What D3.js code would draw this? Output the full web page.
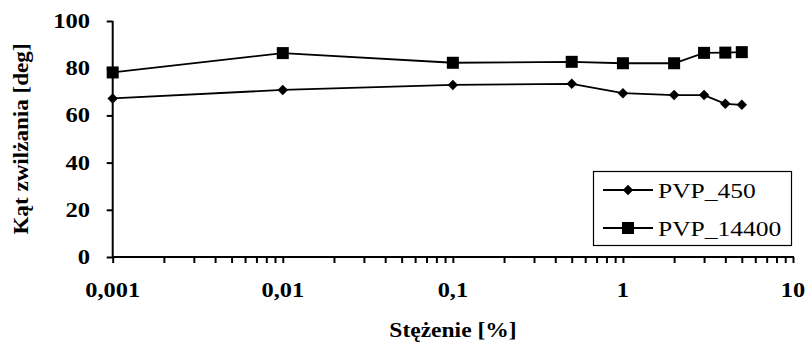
<!DOCTYPE html>
<html><head><meta charset="utf-8">
<script src="https://cdn.jsdelivr.net/npm/d3@7"></script>
<style>body{margin:0;background:#fff}svg{display:block}</style>
</head><body>
<svg id="c" width="809" height="342"></svg>
<script>
const concentrations = [0.001, 0.01, 0.1, 0.5, 1, 2, 3, 4, 5];
const pvp450 = [67.2, 70.8, 72.9, 73.4, 69.4, 68.6, 68.6, 64.9, 64.5];
const pvp14400 = [78.2, 86.4, 82.3, 82.7, 82.1, 82.1, 86.5, 86.6, 86.8];
const seriesNames = ["PVP_450", "PVP_14400"];
const xTickValues = [0.001, 0.01, 0.1, 1, 10];
const xTickLabels = ["0,001", "0,01", "0,1", "1", "10"];
const yTickValues = [0, 20, 40, 60, 80, 100];
const xTitle = "Stężenie [%]";
const yTitle = "Kąt zwilżania [deg]";

const FONT = "Liberation Serif";
const svg = d3.select("#c");
const x = d3.scaleLog().domain([0.001, 10]).range([112.7, 793]);
const y = d3.scaleLinear().domain([0, 100]).range([257, 21]);

function stretch(sel, k) {
  sel.each(function () {
    const w = this.getComputedTextLength();
    d3.select(this).attr("textLength", w * k).attr("lengthAdjust", "spacingAndGlyphs");
  });
}

const allX = [];
for (let e = -3; e < 1; e++) for (let m = 1; m <= 9; m++) allX.push(m * Math.pow(10, e));
allX.push(10);
const xAxis = d3.axisBottom(x).tickValues(allX).tickSize(6).tickFormat("");
const gx = svg.append("g").attr("transform", "translate(0,257)").call(xAxis);
gx.select(".domain").attr("stroke-width", 2).attr("d", `M${x(0.001)},0H${x(10)+1}`);
gx.selectAll(".tick line").attr("stroke-width", 2);

const xt = svg.append("g").selectAll("text").data(xTickValues).join("text")
  .attr("x", d => x(d)).attr("y", 297).attr("text-anchor", "middle")
  .attr("font-family", FONT).attr("font-size", 21).attr("font-weight", "bold")
  .text((d, i) => xTickLabels[i]);
stretch(xt, 1.16);

const yAxis = d3.axisLeft(y).tickValues(yTickValues).tickSize(6).tickFormat("");
const gy = svg.append("g").attr("transform", `translate(${x(0.001)},0)`).call(yAxis);
gy.select(".domain").attr("stroke-width", 2).attr("d", `M0,${y(100)}V${y(0)}`);
gy.selectAll(".tick line").attr("stroke-width", 2);

const yt = svg.append("g").selectAll("text").data(yTickValues).join("text")
  .attr("x", 90).attr("y", d => y(d) + 7).attr("text-anchor", "end")
  .attr("font-family", FONT).attr("font-size", 21).attr("font-weight", "bold")
  .text(d => d);
stretch(yt, 1.17);

const xl = svg.append("text").attr("x", 453).attr("y", 337).attr("text-anchor", "middle")
  .attr("font-family", FONT).attr("font-size", 21).attr("font-weight", "bold").text(xTitle);
stretch(xl, 1.12);
const yl = svg.append("text").attr("transform", "translate(28,139) rotate(-90)").attr("text-anchor", "middle")
  .attr("font-family", FONT).attr("font-size", 21).attr("font-weight", "bold").text(yTitle);
stretch(yl, 1.1);

const line = d3.line().x((d, i) => x(concentrations[i])).y(d => y(d));
const data = [pvp450, pvp14400];
svg.selectAll("path.series").data(data).join("path").attr("class", "series")
  .attr("d", d => line(d)).attr("fill", "none").attr("stroke", "#000").attr("stroke-width", 1.8);

const diamond = d3.symbol().type(d3.symbolDiamond2).size(70);
svg.append("g").selectAll("path").data(pvp450).join("path")
  .attr("transform", (d, i) => `translate(${x(concentrations[i])},${y(d)})`)
  .attr("d", diamond()).attr("fill", "#000");
svg.append("g").selectAll("rect").data(pvp14400).join("rect")
  .attr("x", (d, i) => x(concentrations[i]) - 6).attr("y", d => y(d) - 6)
  .attr("width", 12).attr("height", 12).attr("fill", "#000");

const lg = svg.append("g");
lg.append("rect").attr("x", 593.5).attr("y", 171.5).attr("width", 198).attr("height", 74)
  .attr("fill", "#fff").attr("stroke", "#000").attr("stroke-width", 1.2);
seriesNames.forEach((n, i) => {
  const yy = 190 + i * 38;
  lg.append("line").attr("x1", 603).attr("x2", 653).attr("y1", yy).attr("y2", yy)
    .attr("stroke", "#000").attr("stroke-width", 1.8);
  if (i === 0) lg.append("path").attr("transform", `translate(628,${yy})`).attr("d", diamond()).attr("fill", "#000");
  else lg.append("rect").attr("x", 622).attr("y", yy - 6).attr("width", 12).attr("height", 12).attr("fill", "#000");
  const t = lg.append("text").attr("x", 658).attr("y", yy + 8).attr("font-family", FONT).attr("font-size", 22).text(n);
  stretch(t, 1.16);
});
</script>
</body></html>
